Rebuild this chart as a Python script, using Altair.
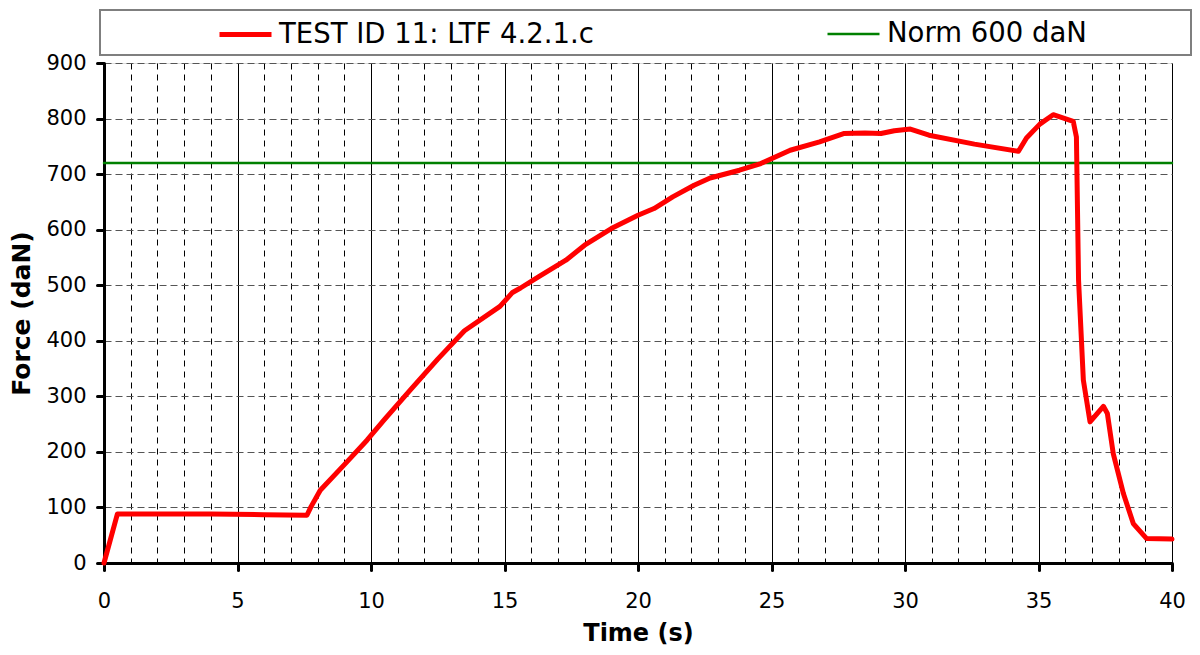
import altair as alt
import pandas as pd

# Measured series (time in s, force in daN)
time_s = [0, 0.5, 2, 4, 6, 7.6, 7.75, 8.1, 9.1, 9.85, 10.5, 11.5, 12.5, 13.5, 14.83,
          15.3, 15.6, 16.3, 17.3, 18.0, 19.0, 20.0, 20.6, 21.3, 22.1, 22.7, 23.8, 24.6,
          25.7, 26.8, 27.7, 28.5, 29.1, 29.6, 30.2, 30.9, 32.6, 34.25, 34.55, 35.05,
          35.55, 36.3, 36.42, 36.5, 36.68, 36.93, 37.43, 37.58, 37.8, 38.18, 38.55,
          39.05, 40]
force_dan = [0, 88, 88, 88, 87, 86, 101, 131, 182, 221, 258, 313, 367, 418, 462,
             487, 495, 516, 545, 572, 602, 626, 638, 659, 680, 693, 707, 719,
             743, 758, 773, 774, 773, 778, 781, 770, 754, 741, 765, 790,
             807, 795, 767, 509, 329, 254, 282, 269, 197, 125, 71,
             44, 43]

norm_time = [0, 40]
norm_force = [720, 720]

series_names = ["Norm 600 daN", "TEST ID 11: LTF 4.2.1.c"]
legend_order = ["TEST ID 11: LTF 4.2.1.c", "Norm 600 daN"]
series_colors = ["#008000", "#FF0000"]
series_widths = [2.5, 5]

x_ticks = list(range(0, 41))
y_ticks = list(range(0, 1000, 100))

rows = [{"t": t, "f": f, "series": series_names[0]} for t, f in zip(norm_time, norm_force)]
rows += [{"t": t, "f": f, "series": series_names[1]} for t, f in zip(time_s, force_dan)]
df = pd.DataFrame(rows)

FONT = "DejaVu Sans"
major = "datum.value % 5 === 0"

x_axis = alt.Axis(
    values=x_ticks,
    labelExpr=f"{major} ? datum.label : ''",
    labelOverlap=False,
    labelFlush=False,
    grid=True,
    gridColor="#000000",
    gridWidth=1,
    gridDash={"condition": {"test": major, "value": []}, "value": [6, 5]},
    tickOpacity={"condition": {"test": major, "value": 1}, "value": 0},
    tickSize=7,
    tickWidth=3,
    tickColor="#000000",
    tickCap="round",
    domainColor="#000000",
    domainWidth=3,
    labelFontSize=21,
    labelColor="#000000",
    labelPadding=20,
    title="Time (s)",
    titleFontSize=24,
    titleFontWeight="bold",
    titleColor="#000000",
    titlePadding=10,
)

y_axis = alt.Axis(
    values=y_ticks,
    labelOverlap=False,
    grid=True,
    gridColor="#555555",
    gridWidth=1,
    gridDash=[7, 4],
    tickSize=7,
    tickWidth=3,
    tickColor="#000000",
    tickCap="round",
    domainColor="#000000",
    domainWidth=3,
    labelFontSize=21,
    labelColor="#000000",
    labelPadding=11,
    title="Force (daN)",
    titleFontSize=25,
    titleFontWeight="bold",
    titleColor="#000000",
    titlePadding=11,
)

frame = alt.Chart(alt.Data(values=[{}])).mark_rect(
    fill="white", stroke="#7f7f7f", strokeWidth=2
).encode(
    x=alt.value(-4), x2=alt.value(1087), y=alt.value(-53), y2=alt.value(-8)
)

legend = alt.Legend(
    title=None,
    orient="none",
    legendX=113,
    legendY=-57,
    direction="horizontal",
    columns=2,
    gridAlign="all",
    columnPadding=228,
    symbolType="stroke",
    symbolSize=2704,
    symbolStrokeWidth=4,
    labelFontSize=27.5,
    labelFont=FONT,
    labelColor="#000000",
    labelLimit=800,
    labelOffset=5,
    padding=0,
)

lines = alt.Chart(df).mark_line(strokeJoin="round", strokeCap="round").encode(
    x=alt.X("t:Q", scale=alt.Scale(domain=[0, 40], nice=False), axis=x_axis),
    y=alt.Y("f:Q", scale=alt.Scale(domain=[0, 900], nice=False), axis=y_axis),
    color=alt.Color("series:N",
                    scale=alt.Scale(domain=legend_order,
                                    range=[series_colors[1], series_colors[0]]),
                    legend=legend),
    strokeWidth=alt.StrokeWidth("series:N",
                                scale=alt.Scale(domain=legend_order,
                                                range=[series_widths[1], series_widths[0]]),
                                legend=None),
    detail="series:N",
)

chart = alt.layer(frame, lines).properties(
    width=1068,
    height=500,
    autosize=alt.AutoSizeParams(type="none"),
    padding={"left": 96, "top": 55, "right": 20, "bottom": 83},
    background="white",
).configure_view(
    stroke="#7f7f7f", strokeWidth=2
).configure(
    font=FONT
)

chart.save("out.html", embed_options={"renderer": "svg", "actions": False})
